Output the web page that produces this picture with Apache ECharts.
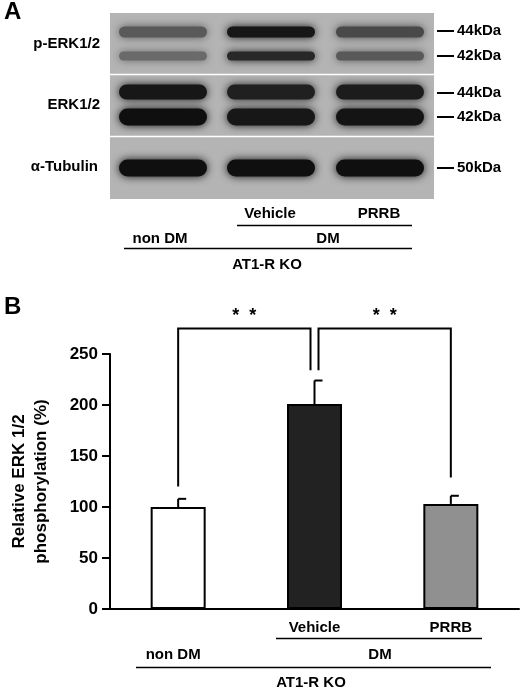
<!DOCTYPE html>
<html><head><meta charset="utf-8">
<script src="https://cdn.jsdelivr.net/npm/echarts@6/dist/echarts.min.js"></script>
<style>html,body{margin:0;padding:0;background:#fff}#c{width:520px;height:689px}</style>
</head><body><div id="c"></div>
<script>
const categories = ['non DM', 'Vehicle', 'PRRB'];
const values = [100, 201, 103];
const errors = [8, 23, 8];
const barColors = ['#ffffff', '#222222', '#909090'];
const yTicks = [0, 50, 100, 150, 200, 250];
// blot band darkness per lane (0 light .. 1 dark)
const pErk44 = [0.55, 0.95, 0.65];
const pErk42 = [0.45, 0.85, 0.55];
const erk44 = [0.95, 0.9, 0.92];
const erk42 = [1.0, 0.95, 0.97];
const tubulin = [1.0, 1.0, 1.0];

(function () {
const F = '"Liberation Sans", Arial, sans-serif';
const chart = echarts.init(document.getElementById('c'));
chart.setOption({
  animation: false,
  grid: {left: 108, right: 1, top: 354, bottom: 80},
  xAxis: {type: 'category', data: categories, boundaryGap: true,
    axisLine: {lineStyle: {color: '#000', width: 2}},
    axisTick: {inside: true, length: 6, lineStyle: {color: '#000', width: 2}},
    axisLabel: {show: false}},
  yAxis: {type: 'value', min: yTicks[0], max: yTicks[yTicks.length - 1], interval: 50,
    axisLine: {show: true, lineStyle: {color: '#000', width: 2}},
    axisTick: {show: true, length: 8, lineStyle: {color: '#000', width: 2}},
    splitLine: {show: false},
    axisLabel: {color: '#000', fontFamily: F, fontWeight: 'bold', fontSize: 17, margin: 12},
    name: 'Relative ERK 1/2\nphosphorylation (%)', nameLocation: 'middle', nameGap: 58, nameRotate: 90,
    nameTextStyle: {color: '#000', fontFamily: F, fontWeight: 'bold', fontSize: 17, lineHeight: 22}},
  series: [
    {type: 'bar', barWidth: 55, data: values.map((v, i) => ({value: v, itemStyle: {color: barColors[i], borderColor: '#000', borderWidth: 2}}))},
    {type: 'custom', z: 1, data: values.map((v, i) => [i, v, v + errors[i]]),
      renderItem: (p, api) => {
        const a = api.coord([api.value(0), api.value(1)]);
        const b = api.coord([api.value(0), api.value(2)]);
        return {type: 'group', children: [
          {type: 'line', shape: {x1: a[0], y1: a[1], x2: b[0], y2: b[1]}, style: {stroke: '#000', lineWidth: 2}},
          {type: 'line', shape: {x1: a[0], y1: b[1], x2: a[0] + 8, y2: b[1]}, style: {stroke: '#000', lineWidth: 2}}]};
      }}
  ]
});

const g = [];
const T = (t, x, y, size, align) => g.push({type: 'text', x, y, style: {text: t, font: 'bold ' + size + 'px ' + F, fill: '#000', align: align || 'center', verticalAlign: 'middle'}});
const L = (x1, y1, x2, y2, w, c) => g.push({type: 'line', shape: {x1, y1, x2, y2}, style: {stroke: c || '#000', lineWidth: w || 2}});

T('A', 4, 12, 24, 'left');
g.push({type: 'rect', shape: {x: 110, y: 13, width: 324, height: 186}, style: {fill: '#b4b4b4'}});
L(110, 74.5, 434, 74.5, 1.5, '#fff');
L(110, 136.5, 434, 136.5, 1.5, '#fff');
const laneX = [115, 223, 332];
const band = (arr, yc, h) => arr.forEach((d, i) => {
  const c = Math.round(180 - 165 * d);
  const col = 'rgb(' + c + ',' + c + ',' + c + ')';
  g.push({type: 'rect', shape: {x: laneX[i] + 4, y: yc - h / 2, width: 88, height: h, r: h / 2},
    style: {fill: col, shadowBlur: 8, shadowColor: col}});
});
band(pErk44, 32, 11); band(pErk42, 56, 9);
band(erk44, 92, 15); band(erk42, 117, 17);
band(tubulin, 168, 17);
T('p-ERK1/2', 100, 44, 15, 'right'); T('ERK1/2', 100, 105, 15, 'right'); T('α-Tubulin', 98, 167, 15, 'right');
[['44kDa', 31], ['42kDa', 56], ['44kDa', 93], ['42kDa', 117], ['50kDa', 168]].forEach(([t, y]) => { L(437, y, 454, y, 2); T(t, 457, y, 15, 'left'); });
T('Vehicle', 270, 214, 15); T('PRRB', 379, 214, 15); L(237, 225.5, 412, 225.5, 1.5);
T('non DM', 160, 239, 15); T('DM', 328, 239, 15); L(124, 248.5, 412, 248.5, 1.5);
T('AT1-R KO', 267, 265, 15);

T('B', 4, 307, 24, 'left');
const cx = categories.map((c, i) => chart.convertToPixel({xAxisIndex: 0}, i));
const py = v => chart.convertToPixel({yAxisIndex: 0}, v);
const topY = py(275), e0 = py(values[0] + errors[0] + 12), e1 = py(values[1] + errors[1] + 10), e2 = py(values[2] + errors[2] + 18);
const m1 = cx[1] - 4, m2 = cx[1] + 4;
g.push({type: 'polyline', shape: {points: [[cx[0], e0], [cx[0], topY], [m1, topY], [m1, e1]]}, style: {stroke: '#000', lineWidth: 2, fill: null}});
g.push({type: 'polyline', shape: {points: [[m2, e1], [m2, topY], [cx[2], topY], [cx[2], e2]]}, style: {stroke: '#000', lineWidth: 2, fill: null}});
T('*  *', (cx[0] + m1) / 2, topY - 12, 18); T('*  *', (m2 + cx[2]) / 2, topY - 12, 18);
T('Vehicle', cx[1], 628, 15); T('PRRB', cx[2], 628, 15); L(276, 638.5, 482, 638.5, 1.5);
T('non DM', cx[0] - 5, 655, 15); T('DM', 380, 655, 15); L(136, 667.5, 491, 667.5, 1.5);
T('AT1-R KO', 311, 683, 15);
chart.setOption({graphic: {elements: g}});
})();
</script></body></html>
